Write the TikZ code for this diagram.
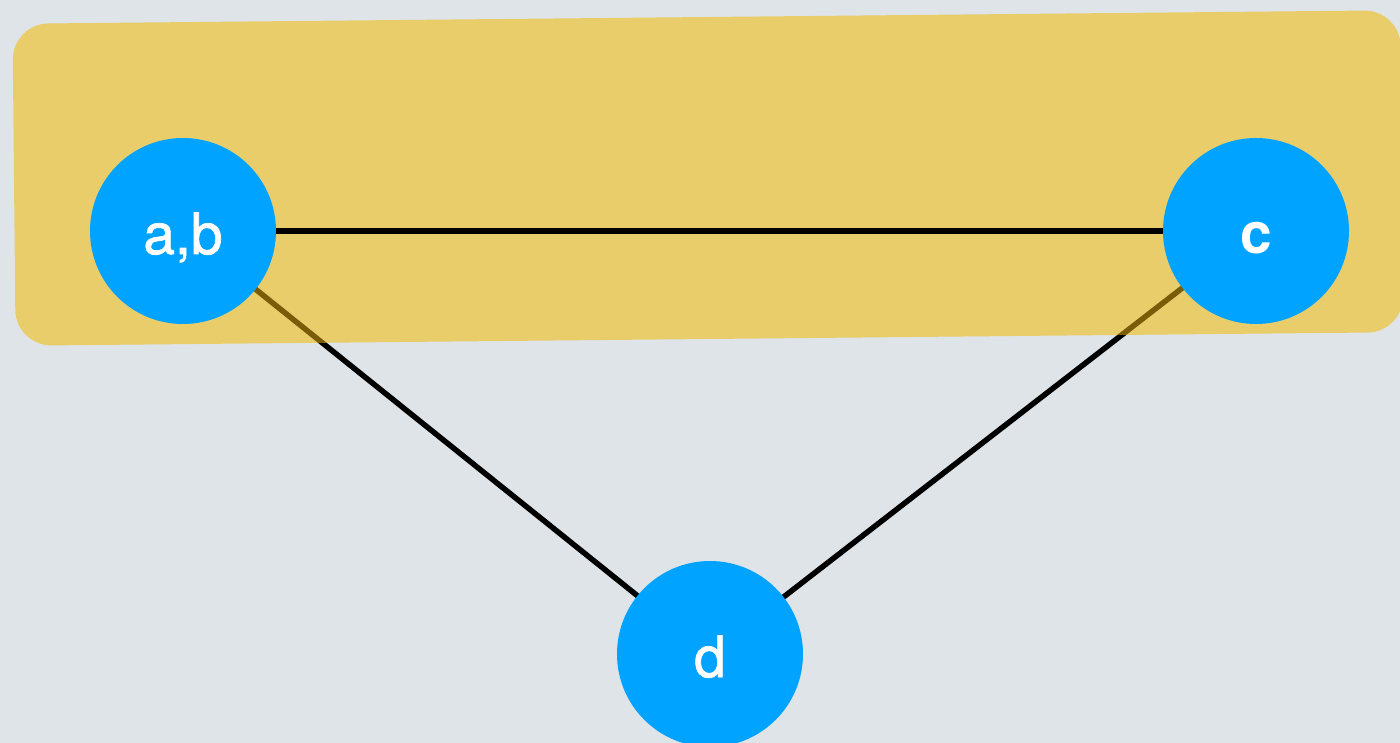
\documentclass[tikz,border=0pt]{standalone}
\usepackage{fontspec}
\setmainfont{TeX Gyre Heros}
\newfontfamily\labelfont{TeX Gyre Heros}[FakeBold=1.2]
\definecolor{bgcol}{RGB}{223,228,232}
\definecolor{bandcol}{RGB}{233,205,106}
\definecolor{nodecol}{RGB}{0,163,255}
\definecolor{shadedge}{RGB}{122,92,8}
\begin{document}
\begin{tikzpicture}[x=1pt,y=-1pt,
  vertex/.style={circle,fill=nodecol,minimum size=186pt,inner sep=0pt,
    text=white,text height=46pt,text depth=0pt,
    font=\labelfont\fontsize{57}{60}\selectfont},
  link/.style={line width=5.5pt,black},
  shadedlink/.style={line width=5.5pt,shadedge}]
  \useasboundingbox (0,0) rectangle (1400,743);
  \fill[bgcol] (0,0) rectangle (1400,743);

  % vertex positions
  \coordinate (pab) at (183,231);
  \coordinate (pc) at (1256,231);
  \coordinate (pd) at (710,654);

  % diagonal links, drawn below the highlight band
  \draw[link] (pab) -- (pd);
  \draw[link] (pc) -- (pd);

  % highlight band, slightly tilted
  \begin{scope}[rotate around={0.56:(708,178)}]
    \fill[bandcol,rounded corners=36pt] (14,17) rectangle (1402,339);
    \clip[rounded corners=36pt] (14,17) rectangle (1402,339);
    \draw[shadedlink] (pab) -- (pd);
    \draw[shadedlink] (pc) -- (pd);
  \end{scope}

  % vertices
  \node[vertex] (ab) at (pab) {a,b};
  \node[vertex,font=\fontsize{57}{60}\selectfont\bfseries] (c) at (pc) {c};
  \node[vertex] (d) at (pd) {d};

  \draw[link] (ab) -- (c);
\end{tikzpicture}
\end{document}
